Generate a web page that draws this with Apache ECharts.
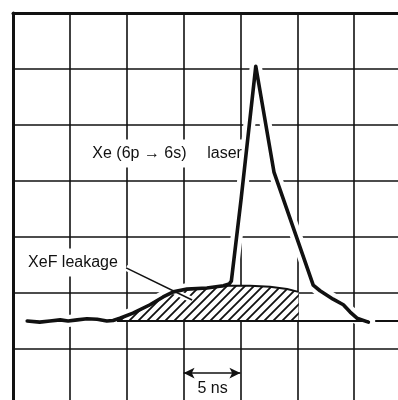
<!DOCTYPE html>
<html>
<head>
<meta charset="utf-8">
<script src="https://cdn.jsdelivr.net/npm/echarts@6/dist/echarts.min.js"></script>
<style>
html,body{margin:0;padding:0;background:#fff;overflow:hidden;}
/* the scope screen is 7 x 7 divisions, the photo cuts it at 398x400 */
#main{width:411px;height:405px;}
</style>
</head>
<body>
<div id="main"></div>
<script>
// values in screen divisions (x from left edge, y from bottom edge)
var traceX = [0.25,0.47,0.65,0.83,0.97,1.13,1.30,1.48,1.65,1.76,1.88,2.11,2.41,2.64,2.82,3.06,3.41,3.70,3.80,3.84,4.01,4.27,4.59,5.28,5.40,5.63,5.81,5.93,6.05,6.25];
var traceY = [1.50,1.48,1.50,1.52,1.50,1.52,1.54,1.53,1.50,1.51,1.55,1.64,1.79,1.93,2.02,2.07,2.09,2.13,2.16,2.21,3.66,6.05,4.16,2.14,2.04,1.89,1.79,1.66,1.55,1.48];

// XeF leakage (hatched)
var leakX = [1.83,1.88,2.11,2.41,2.64,2.82,3.06,3.41,3.77,4.17,4.52,4.82,5.02];
var leakY = [1.50,1.55,1.64,1.79,1.93,2.02,2.07,2.09,2.13,2.13,2.11,2.07,2.02];

var baseLevel = 1.5;
var baseX = [1.83,6.25,6.31,6.37,7.2];
var leaderX = [1.99,3.15];
var leaderY = [2.45,1.875];

function pairs(xs,ys){
  var out=[];
  for(var i=0;i<xs.length;i++){ out.push([xs[i],ys[i]]); }
  return out;
}
var trace = pairs(traceX,traceY);
var leak = pairs(leakX,leakY);
var baseData = [[baseX[0],baseLevel],[baseX[1],baseLevel],[baseX[2],'-'],[baseX[3],baseLevel],[baseX[4],baseLevel]];
var leader = pairs(leaderX,leaderY);

//hatch tile
var tile = document.createElement('canvas');
tile.width = 9; tile.height = 9;
var c = tile.getContext('2d');
c.fillStyle = '#fff'; c.fillRect(0,0,9,9);
c.strokeStyle = '#111'; c.lineWidth = 1.8;
c.beginPath();
c.moveTo(-2,11); c.lineTo(11,-2);
c.moveTo(-2,2); c.lineTo(2,-2);
c.moveTo(7,11); c.lineTo(11,7);
c.stroke();

var ink = '#111';
var font = "'Liberation Sans', Arial, sans-serif";

var myChart = echarts.init(document.getElementById('main'));

var option = {
  animation: false,
  backgroundColor: '#fff',
  grid: {left: 13, top: 13, right: 0, bottom: 0},
  xAxis: {
    type: 'value', min: 0, max: 7, interval: 1, position: 'top',
    axisLine: {show: true, onZero: false, lineStyle: {color: ink, width: 3}},
    axisTick: {show: false}, axisLabel: {show: false},
    splitLine: {show: true, lineStyle: {color: ink, width: 1.6}}
  },
  yAxis: {
    type: 'value', min: 0, max: 7, interval: 1,
    axisLine: {show: true, onZero: false, lineStyle: {color: ink, width: 3}},
    axisTick: {show: false}, axisLabel: {show: false},
    splitLine: {show: true, lineStyle: {color: ink, width: 1.6}}
  },
  series: [
    {
      // white gap round the trace
      type: 'line', data: trace, symbol: 'none', silent: true, z: 2,
      lineStyle: {color: '#fff', width: 12, join: 'round'},
      markPoint: {
        symbol: 'circle', symbolSize: 0, silent: true,
        label: {show: true, position: 'inside', color: ink, fontFamily: font, fontSize: 16,
                align: 'left', verticalAlign: 'middle', backgroundColor: '#fff', padding: [6, 2]},
        data: [
          {coord: [1.36, 4.49], label: {formatter: 'Xe (6p → 6s)'}},
          {coord: [3.38, 4.49], label: {formatter: 'laser'}},
          {coord: [0.23, 2.545], label: {formatter: 'XeF leakage'}},
          {coord: [3.51, 0.29], label: {formatter: '5 ns', align: 'center', backgroundColor: 'transparent', padding: 0}}
        ]
      }
    },
    {
      type: 'line', data: leak, symbol: 'none', silent: true, z: 3,
      lineStyle: {color: ink, width: 2},
      areaStyle: {color: {image: tile, repeat: 'repeat'}, opacity: 1, origin: baseLevel}
    },
    {
      type: 'line', data: baseData, symbol: 'none', silent: true, z: 3,
      lineStyle: {color: ink, width: 2},
      markLine: {
        silent: true, symbol: ['arrow', 'arrow'], symbolSize: [8, 11],
        lineStyle: {color: ink, width: 1.6, type: 'solid'},
        label: {show: false},
        data: [[{coord: [3, 0.57]}, {coord: [4, 0.57]}]]
      }
    },
    {
      type: 'line', data: leader, symbol: 'none', silent: true, z: 4,
      lineStyle: {color: '#fff', width: 6}
    },
    {
      type: 'line', data: leader, symbol: 'none', silent: true, z: 5,
      lineStyle: {color: ink, width: 1.5}
    },
    {
      type: 'line', data: trace, symbol: 'none', silent: true, z: 6,
      lineStyle: {color: ink, width: 3.6, join: 'round', cap: 'round'}
    }
  ]
};

if (option && typeof option === "object") {
  myChart.setOption(option, true);
}
</script>
</body>
</html>
